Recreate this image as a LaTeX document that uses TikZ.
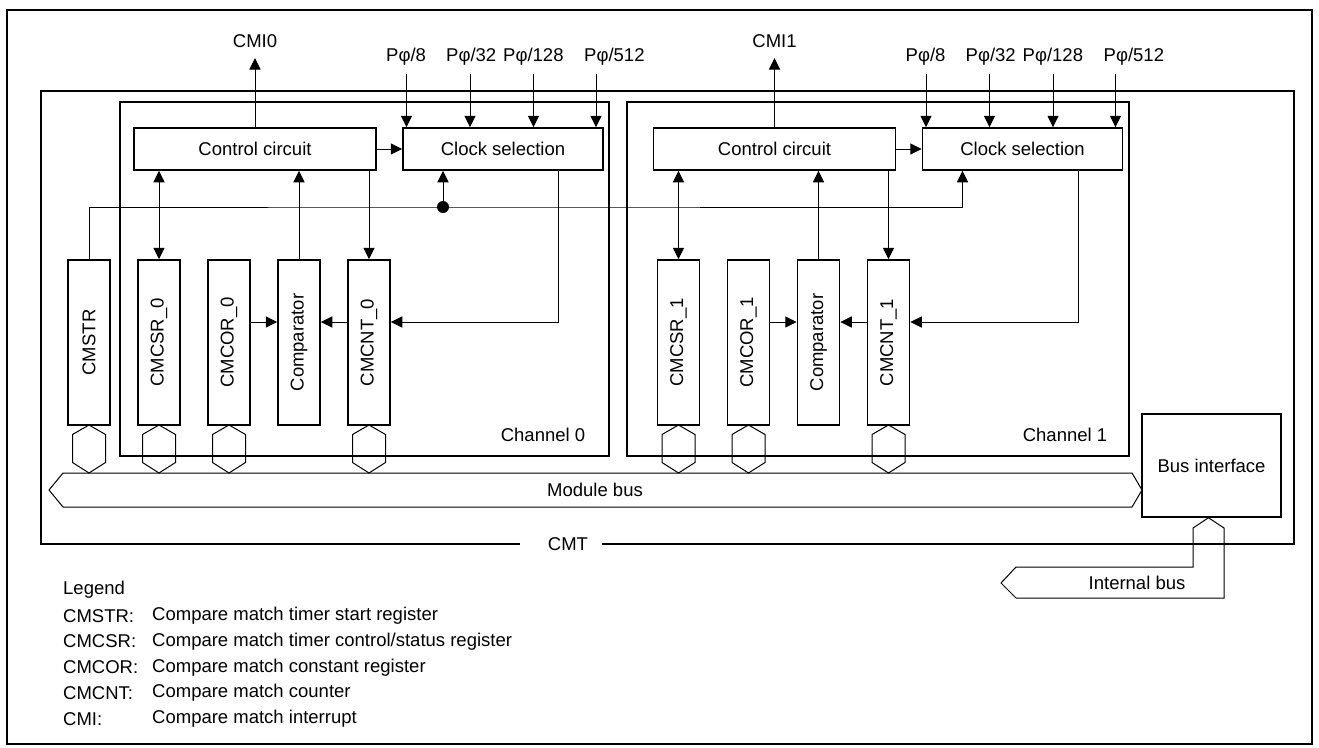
\documentclass[tikz,border=0pt]{standalone}
\usepackage{fontspec}
\setmainfont{Liberation Sans}
\usetikzlibrary{arrows.meta}
\begin{document}
\begin{tikzpicture}[x=1pt,y=-1pt,
  txt/.style={font=\fontsize{18.5}{22}\selectfont, inner sep=0pt},
  blk/.style={txt, draw, line width=1.5pt, minimum height=42pt},
  reg/.style={draw, line width=1.5pt, minimum width=42pt, minimum height=165pt, inner sep=0pt},
  chan/.style={draw, line width=1.8pt, minimum width=#1, minimum height=354pt, inner sep=0pt},
  wire/.style={line width=1pt},
  arr/.style={wire, -{Triangle[length=11.5pt,width=11pt]}},
  darr/.style={wire, {Triangle[length=11.5pt,width=11pt]}-{Triangle[length=11.5pt,width=11pt]}},
  bus/.style={line width=1pt},
]
\useasboundingbox (0,0) rectangle (1319,747);
\draw[line width=2.4pt] (7,10) rectangle (1312,744);

% CMT module frame
\node[txt] (cmt) at (568,544) {CMT};
\draw[line width=1.1pt] (520,544) -| (41,91) -| (1294,544) -- (602,544);

% channel frames
\node[chan=489pt] (ch0) at (364.5,279) {};
\node[chan=502pt] (ch1) at (878,279) {};
\node[txt] (ch0lab) at (543,435) {Channel 0};
\node[txt] (ch1lab) at (1065,435) {Channel 1};

\foreach \c/\dx in {0/0,1/519.5}{
 \begin{scope}[xshift=\dx pt]
  \node[blk, minimum width=242pt] (ctrl\c) at (255,149) {Control circuit};
  \node[blk, minimum width=200pt] (clk\c) at (503,149) {Clock selection};
  \node[reg] (csr\c) at (159,342.5) {};
  \node[reg] (cor\c) at (229,342.5) {};
  \node[reg] (cmp\c) at (299,342.5) {};
  \node[reg] (cnt\c) at (369,342.5) {};
  \node[txt,rotate=90] (csrt\c) at (csr\c) {CMCSR\_\c};
  \node[txt,rotate=90] (cort\c) at (cor\c) {CMCOR\_\c};
  \node[txt,rotate=90] (cmpt\c) at (cmp\c) {Comparator};
  \node[txt,rotate=90] (cntt\c) at (cnt\c) {CMCNT\_\c};
  % interrupt output
  \node[txt] (cmi\c) at (255,41) {CMI\c};
  \coordinate (cmitip\c) at (255,58);
  \draw[arr] (ctrl\c.north) -- (cmitip\c);
  % clock inputs
  \foreach \lx/\ax/\pl in {386/406.5/8,446/470/32,503/533.5/128,584/596/512}{
    \node[txt,anchor=west] (p\c-\pl) at (\lx,57) {Pφ/\pl};
    \coordinate (pin\c-\pl) at (\ax,74);
    \draw[arr] (pin\c-\pl) -- (pin\c-\pl |- clk\c.north);
  }
  \draw[arr] (ctrl\c.east) -- (clk\c.west);
  \draw[darr] (csr\c.north |- ctrl\c.south) -- (csr\c.north);
  \draw[arr] (cmp\c.north) -- (cmp\c.north |- ctrl\c.south);
  \draw[arr] (cnt\c.north |- ctrl\c.south) -- (cnt\c.north);
  \draw[arr] ([yshift=20.5pt]cor\c.east) -- ([yshift=20.5pt]cmp\c.west);
  \draw[arr] ([yshift=20.5pt]cnt\c.west) -- ([yshift=20.5pt]cmp\c.east);
  \draw[arr] ([xshift=55.5pt]clk\c.south) |- ([yshift=20.5pt]cnt\c.east);
 \end{scope}
}

% start register
\node[reg] (cmstr) at (89,342.5) {};
\node[txt,rotate=90] (cmstrt) at (cmstr) {CMSTR};
\coordinate (j) at (443,207);
\draw[arr] (cmstr.north) |- (j) -| ([xshift=-60pt]clk1.south);
\draw[arr] (j) -- ([xshift=-60pt]clk0.south);
\fill (j) circle[radius=6pt];

% bus taps
\foreach \x in {89,159,229,369,678.5,748.5,888.5}
  \draw[bus] (\x,425) -- (\x+16.5,434.5) -- (\x+16.5,462.5) -- (\x,473) -- (\x-16.5,462.5) -- (\x-16.5,434.5) -- cycle;

% module bus
\draw[bus] (63,473) -- (1132,473) -- (1142,490) -- (1132,507) -- (63,507) -- (49,490) -- cycle;
\node[txt] (mbus) at (595,490) {Module bus};

% bus interface
\node[txt, draw, line width=1.5pt, minimum width=139pt, minimum height=103pt] (bif) at (1211.5,465.5) {Bus interface};
\draw[bus] ([xshift=-3pt]bif.south) -- (1224,528) -- (1224,598) -- (1016,598) -- (1001,583) -- (1016,567) -- (1193,567) -- (1193,528) -- cycle;
\node[txt] (ibus) at (1137,583) {Internal bus};

% legend
\node[txt,anchor=west] (lg) at (63,590) {Legend};
\node[txt,anchor=west] (lk1) at (63,615.8) {CMSTR:};
\node[txt,anchor=west] (lk2) at (63,641.6) {CMCSR:};
\node[txt,anchor=west] (lk3) at (63,667.4) {CMCOR:};
\node[txt,anchor=west] (lk4) at (63,693.2) {CMCNT:};
\node[txt,anchor=west] (lk5) at (63,719) {CMI:};
\node[txt,anchor=west] (ld1) at (152,615.8) {Compare match timer start register};
\node[txt,anchor=west] (ld2) at (152,641.6) {Compare match timer control/status register};
\node[txt,anchor=west] (ld3) at (152,667.4) {Compare match constant register};
\node[txt,anchor=west] (ld4) at (152,693.2) {Compare match counter};
\node[txt,anchor=west] (ld5) at (152,719) {Compare match interrupt};
\end{tikzpicture}
\end{document}
